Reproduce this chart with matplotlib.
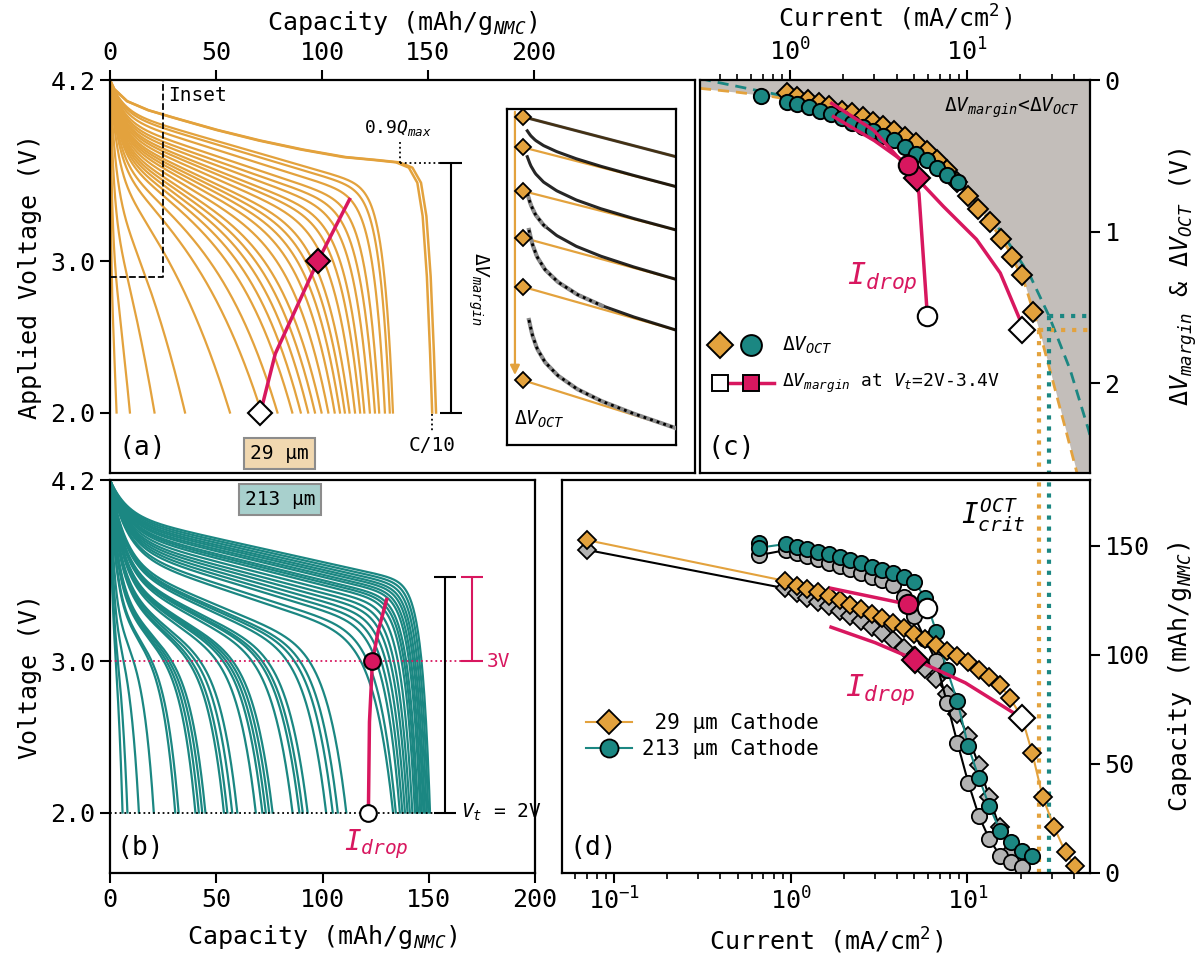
import numpy as np
import matplotlib
matplotlib.use('Agg')
import matplotlib.pyplot as plt

# colours
ORANGE = '#E3A23D'
TEAL = '#1B8782'
PINK = '#D8175F'
GREY = '#B3B3B3'
SHADE = '#C3BEBA'

plt.rcParams['font.family'] = ['DejaVu Sans Mono']
plt.rcParams['mathtext.fontset'] = 'custom'
plt.rcParams['mathtext.rm'] = 'DejaVu Sans Mono'
plt.rcParams['mathtext.it'] = 'DejaVu Sans Mono:italic'
plt.rcParams['mathtext.bf'] = 'DejaVu Sans Mono:bold'

# ---------------- data ----------------
# (a) 29 um discharge curves: end capacity at 2 V (mAh/g)
qend_29 = [3.1, 9.4, 21, 35.4, 56.6, 71.5, 79, 86, 90, 93.5, 96.7, 99.8, 103, 106,
           108.5, 110.8, 113, 115.6, 118, 120, 122.6, 125, 127, 129.7, 132, 133.5]
# shape parameters vs end capacity (start / end plateau voltage, knee sharpness)
tab29_q = [3, 10, 21, 35, 57, 72, 86, 100, 113, 125, 133.5]
tab29_v0 = [3.0, 3.15, 3.3, 3.45, 3.6, 3.66, 3.72, 3.78, 3.84, 3.91, 4.0]
tab29_v1 = [2.2, 2.3, 2.35, 2.4, 2.5, 2.6, 2.75, 2.9, 3.1, 3.3, 3.46]
tab29_p = [1.5, 1.8, 2.2, 2.6, 3, 3.5, 4.5, 6, 10, 18, 30]
tab29_tau = [0.4, 1, 1.8, 2.8, 3.5, 4, 4.5, 5, 5.5, 6, 6]
# C/10 curve
c10_q = [0, 2, 8, 18, 30, 50, 70, 90, 110, 125, 135, 141, 145, 147.5, 149.5, 151, 152]
c10_v = [4.2, 4.14, 4.06, 4.0, 3.95, 3.87, 3.80, 3.74, 3.69, 3.67, 3.655, 3.62, 3.52, 3.3, 2.9, 2.4, 2.0]
idrop29_q = [71, 78, 98, 113]
idrop29_v = [2.0, 2.39, 3.0, 3.41]

# (b) 213 um discharge curves
qend_213 = [5.9, 8.2, 13.6, 20.6, 30.7, 32.3, 40.2, 41.8, 43.4, 44.9, 53.6, 55.2, 57.5, 59.9,
            68.6, 71.7, 73.3, 74.9, 76.5, 85.9, 89.1, 90.7, 93, 101.7, 104.8, 107.2, 111.2,
            133.2, 134.5, 136.4, 137.6, 138.8, 140, 141.1, 142.3, 143.5, 144.3, 145, 146,
            146.7, 147.5, 148.2, 149, 149.8, 150.6]
tab213_q = [5.5, 13, 20, 31, 43, 56, 73, 90, 106, 133, 141, 150.6]
tab213_v0 = [3.25, 3.3, 3.35, 3.4, 3.45, 3.5, 3.55, 3.6, 3.65, 3.72, 3.82, 3.97]
tab213_v1 = [2.7, 2.7, 2.75, 2.8, 2.8, 2.85, 2.9, 2.95, 3.0, 3.1, 3.3, 3.5]
tab213_p = [3, 4, 5, 6, 7, 8, 9, 10, 12, 15, 25, 40]
tab213_tau = [1, 1.5, 2, 3, 4, 5, 6, 6.5, 7, 8, 8, 8]
idrop213_q = [121.6, 122.1, 123.5, 126.2, 130.2]
idrop213_v = [2.0, 2.6, 3.0, 3.2, 3.41]

# (c) voltage margins vs current
c29_i = [0.958, 1.09, 1.27, 1.45, 1.67, 1.96, 2.25, 2.57, 2.93, 3.37, 3.87, 4.47, 5.15, 5.92,
         6.74, 7.67, 8.74, 10.1, 11.6, 13.5, 15.6, 17.9, 20.5, 23.5]
c29_v = [0.088, 0.114, 0.132, 0.154, 0.171, 0.202, 0.219, 0.246, 0.274, 0.303, 0.336, 0.373,
         0.417, 0.471, 0.526, 0.592, 0.669, 0.763, 0.851, 0.939, 1.048, 1.169, 1.285, 1.531]
c213_i = [0.686, 0.958, 1.10, 1.28, 1.48, 1.70, 1.96, 2.25, 2.57, 2.93, 3.37, 3.87, 4.47,
          5.15, 5.92, 6.74, 7.74, 8.93]
c213_v = [0.103, 0.143, 0.160, 0.180, 0.204, 0.226, 0.252, 0.281, 0.307, 0.336, 0.368, 0.395,
          0.439, 0.489, 0.526, 0.581, 0.629, 0.669]
fit29_i = [0.31, 0.5, 0.8, 1.2, 2, 3, 5, 8, 12, 17, 21, 25.5, 30, 36, 42, 49.5]
fit29_v = [0.055, 0.08, 0.11, 0.145, 0.2, 0.27, 0.4, 0.6, 0.85, 1.11, 1.33, 1.645, 1.95, 2.3, 2.6, 2.95]
fit213_i = [0.31, 0.37, 0.88, 2, 4, 8, 15.4, 22.7, 29, 38.2, 48.4, 50]
fit213_v = [-0.01, 0.01, 0.10, 0.22, 0.38, 0.62, 0.99, 1.29, 1.553, 1.908, 2.30, 2.36]
marg29_i = [1.72, 2.96, 5.2, 7.35, 11.3, 15.4, 19.9, 20.4]
marg29_v = [0.154, 0.33, 0.647, 0.833, 1.05, 1.272, 1.58, 1.645]
marg213_i = [1.76, 3.0, 4.66, 5.15, 5.35, 5.97]
marg213_v = [0.241, 0.40, 0.559, 0.66, 0.75, 1.557]
icrit = [25.5, 29.0]
vcrit = [1.645, 1.553]

# (d) capacity vs current
d29_i = [0.07, 0.926, 1.08, 1.24, 1.43, 1.64, 1.89, 2.17, 2.50, 2.88, 3.29, 3.80, 4.37, 5.01,
         5.77, 6.65, 7.66, 8.77, 10.1, 11.6, 13.3, 15.2, 17.5, 20.4, 23.3, 26.7, 31.0, 35.9, 40.7]
d29_q = [152.5, 133.8, 131.5, 130.0, 128.9, 126.9, 125.1, 122.8, 120.9, 118.7, 117.0, 114.5,
         112.2, 109.6, 107.3, 104.6, 101.8, 99.2, 96.5, 93.1, 89.8, 86.3, 80.0, 70.9, 54.8,
         34.6, 20.9, 9.4, 3.3]
g29_i = [0.07, 0.926, 1.08, 1.24, 1.43, 1.64, 1.89, 2.17, 2.50, 2.88, 3.29, 3.80, 4.37, 5.01,
         5.77, 6.65, 7.66, 8.77, 10.1, 11.6, 13.3, 15.2, 17.5, 20.1]
g29_q = [148, 130.4, 128.2, 125.9, 124.3, 122.1, 119.8, 117.5, 115.2, 112.9, 109.9, 106.5,
         103.0, 99.2, 93.4, 88.9, 82.2, 72.9, 62.7, 49.3, 34.6, 20.9, 9.4, 4.1]
d213_i = [0.665, 0.665, 0.937, 1.08, 1.24, 1.43, 1.64, 1.89, 2.17, 2.50, 2.88, 3.29, 3.80,
          4.37, 5.01, 5.77, 6.65, 7.66, 8.77, 10.1, 11.6, 13.3, 15.3, 17.6, 20.3, 23.3]
d213_q = [151, 149, 150.7, 149.5, 148.4, 147.2, 146.1, 144.6, 143.4, 141.9, 140.3, 138.8,
          137.3, 135.8, 133.5, 125.9, 110.6, 93.1, 78.7, 58.1, 43.7, 30.7, 19.3, 14.0, 10.2, 7.9]
g213_i = [0.665, 0.937, 1.08, 1.24, 1.43, 1.64, 1.89, 2.17, 2.50, 2.88, 3.29, 3.80, 4.37,
          5.01, 5.77, 6.65, 7.66, 8.77, 10.1, 11.6, 13.3, 15.3, 17.6, 20.3]
g213_q = [145.6, 147.9, 146.4, 145.2, 143.7, 142.1, 140.6, 139.1, 137.3, 135.8, 134.2, 132.0,
          126.6, 117.5, 107.0, 97.0, 77.9, 59.7, 41.4, 26.2, 15.5, 7.9, 4.9, 2.6]
drop213_i = [1.69, 4.59, 5.9]
drop213_q = [130.4, 123.1, 121.6]
drop29_i = [1.69, 3.0, 5.06, 9.73, 20.4]
drop29_q = [112.6, 105.5, 97.7, 87.1, 70.9]

# inset (schematic, axes fraction units)
ins_diam_y = [0.977, 0.886, 0.756, 0.617, 0.471, 0.193]
ins_end_y = [0.858, 0.769, 0.640, 0.493, 0.342, 0.050]
ins_start_y = [0.977, 0.935, 0.858, 0.749, 0.640, 0.372]
relax_dx = [0, 0.02, 0.05, 0.1, 0.18, 0.3, 0.45, 0.65, 0.91]
relax_frac = [1, 0.78, 0.58, 0.40, 0.25, 0.13, 0.06, 0.02, 0]


def discharge(qend, tq, tv0, tv1, tp, ttau):
    v0 = np.interp(qend, tq, tv0)
    v1 = np.interp(qend, tq, tv1)
    p = np.interp(qend, tq, tp)
    tau = np.interp(qend, tq, ttau)
    q = np.linspace(0, qend, 400)
    u = q / qend
    a = v0 - (v0 - v1) * u + (4.2 - v0) * np.exp(-q / tau)
    return q, a - (a[-1] - 2.0) * u ** p


def style(ax):
    for s in ax.spines.values():
        s.set_linewidth(1.6)
    ax.tick_params(which='major', direction='out', length=7, width=1.5, labelsize=18)
    ax.tick_params(which='minor', direction='out', length=4, width=1.2)


W, H = 1202, 964


def box(l, t, r, b):
    return [l / W, 1 - b / H, (r - l) / W, (b - t) / H]


fig = plt.figure(figsize=(12.02, 9.64), dpi=100)
ax_a = fig.add_axes(box(110, 80, 695, 473))
ax_c = fig.add_axes(box(700, 80, 1090, 473))
ax_b = fig.add_axes(box(110, 480, 535, 873))
ax_d = fig.add_axes(box(562, 480, 1090, 873))
ax_in = fig.add_axes(box(507, 109, 676, 445))

cap_label = r'Capacity (mAh/g$_{NMC}$)'
cur_label = r'Current (mA/cm$^2$)'

# ---------------- (a) ----------------
for qe in qend_29:
    q, v = discharge(qe, tab29_q, tab29_v0, tab29_v1, tab29_p, tab29_tau)
    ax_a.plot(q, v, color=ORANGE, lw=1.6)
ax_a.plot(c10_q, c10_v, color=ORANGE, lw=1.8)
ax_a.plot(np.array(c10_q) * 1.012, c10_v, color=ORANGE, lw=1.8)
ax_a.plot(idrop29_q, idrop29_v, color=PINK, lw=2.5)
ax_a.plot(idrop29_q[0], idrop29_v[0], 'D', mfc='white', mec='k', mew=1.5, ms=12)
ax_a.plot(idrop29_q[2], idrop29_v[2], 'D', mfc=PINK, mec='k', mew=1.5, ms=12)
ax_a.plot([0, 25, 25], [2.895, 2.895, 4.2], 'k--', lw=1.3)
ax_a.text(27.5, 4.1, 'Inset', fontsize=14, ha='left', va='center')
ax_a.plot([137, 137], [3.65, 3.80], 'k:', lw=1.3)
ax_a.plot([137, 161], [3.65, 3.65], 'k:', lw=1.3)
ax_a.text(136, 3.88, r'0.9$Q_{max}$', fontsize=13, ha='center', va='center')
ax_a.errorbar([161], [2.825], yerr=[0.825], color='k', capsize=8, capthick=1.5, lw=1.5)
ax_a.text(168, 2.82, r'$\Delta V_{margin}$', fontsize=14, rotation=270, ha='left', va='center')
ax_a.plot([152, 152], [1.99, 1.88], 'k:', lw=1.3)
ax_a.text(152, 1.78, 'C/10', fontsize=14, ha='center', va='center')
ax_a.text(80, 1.73, '29 µm', fontsize=14, ha='center', va='center',
          bbox=dict(boxstyle='square,pad=0.3', fc='#F1D8B0', ec='#8C8C8C', lw=1.5))
ax_a.text(0.015, 0.03, '(a)', transform=ax_a.transAxes, fontsize=19, ha='left', va='bottom')
ax_a.set_xlim(0, 276)
ax_a.set_ylim(1.6, 4.2)
ax_a.xaxis.tick_top()
ax_a.xaxis.set_label_position('top')
ax_a.set_xticks([0, 50, 100, 150, 200])
ax_a.set_yticks([2.0, 3.0, 4.2])
ax_a.set_yticklabels(['2.0', '3.0', '4.2'])
ax_a.set_xlabel(cap_label, fontsize=18, labelpad=8)
ax_a.set_ylabel('Applied Voltage (V)', fontsize=18, labelpad=6)
style(ax_a)

# ---------------- inset ----------------
x_dense = np.linspace(0, 0.91, 120)
prof = np.interp(x_dense, relax_dx, relax_frac)
for k in range(6):
    yd, ye = ins_diam_y[k], ins_end_y[k]
    ax_in.plot([0.093, 1.0], [yd, ye], color=ORANGE, lw=1.6, zorder=2)
    if k == 0:
        ax_in.plot([0.093, 1.0], [yd, ye], color='k', lw=2.2, alpha=0.7, zorder=3)
        continue
    x0 = 0.12 if k < 4 else 0.13
    xs = x0 + x_dense * (1.0 - x0) / 0.91
    line = yd + (ye - yd) * (xs - 0.093) / 0.907
    y0 = ins_start_y[k] - (yd + (ye - yd) * (x0 - 0.093) / 0.907)
    curve = line + y0 * prof
    if k < 5:
        ax_in.plot(xs, curve, color='k', lw=2.2, alpha=0.85, zorder=3)
    if k >= 3:
        n = {3: 15, 4: 60, 5: 120}[k]
        ax_in.plot(xs[:n], curve[:n], color='#8a8a8a', lw=3, zorder=3)
        ax_in.plot(xs[:n], curve[:n], color='k', lw=2, ls=(0, (1, 1.5)), zorder=4)
ax_in.plot([0.093] * 6, ins_diam_y, 'D', mfc=ORANGE, mec='k', mew=1.3, ms=8, zorder=5)
ax_in.annotate('', xy=(0.047, 0.2), xytext=(0.047, 1.0),
               arrowprops=dict(arrowstyle='-|>', color=ORANGE, lw=1.6, mutation_scale=14))
ax_in.text(0.04, 0.075, r'$\Delta V_{OCT}$', fontsize=14, ha='left', va='center')
ax_in.set_xlim(0, 1)
ax_in.set_ylim(0, 1)
ax_in.set_xticks([])
ax_in.set_yticks([])
for s in ax_in.spines.values():
    s.set_linewidth(1.6)

# ---------------- (b) ----------------
for qe in qend_213:
    q, v = discharge(qe, tab213_q, tab213_v0, tab213_v1, tab213_p, tab213_tau)
    ax_b.plot(q, v, color=TEAL, lw=1.6)
ax_b.plot([0, 152], [2.0, 2.0], 'k:', lw=1.3)
ax_b.plot([0, 170.4], [3.0, 3.0], ':', color=PINK, lw=1.3)
ax_b.plot(idrop213_q, idrop213_v, color=PINK, lw=2.5)
ax_b.plot(idrop213_q[0], idrop213_v[0], 'o', mfc='white', mec='k', mew=1.5, ms=12)
ax_b.plot(idrop213_q[2], idrop213_v[2], 'o', mfc=PINK, mec='k', mew=1.5, ms=12)
ax_b.errorbar([157.5], [2.78], yerr=[0.78], color='k', capsize=8, capthick=1.5, lw=1.5)
ax_b.errorbar([170.4], [3.28], yerr=[0.28], color=PINK, capsize=8, capthick=1.5, lw=1.5)
ax_b.text(177.5, 3.0, '3V', color=PINK, fontsize=14, ha='left', va='center')
ax_b.text(165, 2.0, r'$V_t$ = 2V', fontsize=14, ha='left', va='center')
ax_b.text(125.5, 1.79, r'$I_{drop}$', color=PINK, fontsize=20, ha='center', va='center')
ax_b.text(80, 4.07, '213 µm', fontsize=14, ha='center', va='center',
          bbox=dict(boxstyle='square,pad=0.3', fc='#A8D0CD', ec='#8C8C8C', lw=1.5))
ax_b.text(0.015, 0.03, '(b)', transform=ax_b.transAxes, fontsize=19, ha='left', va='bottom')
ax_b.set_xlim(0, 200)
ax_b.set_ylim(1.6, 4.2)
ax_b.set_xticks([0, 50, 100, 150, 200])
ax_b.set_yticks([2.0, 3.0, 4.2])
ax_b.set_yticklabels(['2.0', '3.0', '4.2'])
ax_b.set_xlabel(cap_label, fontsize=18, labelpad=8)
ax_b.set_ylabel('Voltage (V)', fontsize=18, labelpad=6)
style(ax_b)

# ---------------- (c) ----------------
ax_c.fill_between(fit29_i, 0, fit29_v, color=SHADE, lw=0, zorder=0)
ax_c.plot(fit29_i, fit29_v, '--', color=ORANGE, lw=2, dashes=(4, 2.5), zorder=1)
ax_c.plot(fit213_i, fit213_v, '--', color=TEAL, lw=2, dashes=(4, 2.5), zorder=1)
for ic, vc, col in zip(icrit, vcrit, [ORANGE, TEAL]):
    ax_c.plot([ic, ic], [vc, 2.7], ':', color=col, lw=3, zorder=1)
    ax_c.plot([ic, 60], [vc, vc], ':', color=col, lw=3, zorder=1)
ax_c.plot(c29_i, c29_v, 'D', mfc=ORANGE, mec='k', mew=1.4, ms=10, ls='none', zorder=3)
ax_c.plot(c213_i, c213_v, 'o', mfc=TEAL, mec='k', mew=1.4, ms=11, ls='none', zorder=3)
ax_c.plot(marg29_i, marg29_v, color=PINK, lw=2.5, zorder=4)
ax_c.plot(marg213_i, marg213_v, color=PINK, lw=2.5, zorder=4)
ax_c.plot(marg29_i[-1], marg29_v[-1], 'D', mfc='white', mec='k', mew=1.5, ms=13, zorder=5)
ax_c.plot(marg29_i[2], marg29_v[2], 'D', mfc=PINK, mec='k', mew=1.5, ms=13, zorder=5)
ax_c.plot(marg213_i[-1], marg213_v[-1], 'o', mfc='white', mec='k', mew=1.5, ms=14, zorder=5)
ax_c.plot(marg213_i[2], marg213_v[2], 'o', mfc=PINK, mec='k', mew=1.5, ms=14, zorder=5)
ax_c.text(3.31, 1.30, r'$I_{drop}$', color=PINK, fontsize=22, ha='center', va='center')
ax_c.text(0.975, 0.93, r'$\Delta V_{margin}$<$\Delta V_{OCT}$', transform=ax_c.transAxes,
          fontsize=14, ha='right', va='center')
# legend drawn by hand
tr = ax_c.transAxes
ax_c.plot([0.051], [0.326], 'D', transform=tr, mfc=ORANGE, mec='k', mew=1.4, ms=13, zorder=6)
ax_c.plot([0.131], [0.326], 'o', transform=tr, mfc=TEAL, mec='k', mew=1.4, ms=15, zorder=6)
ax_c.text(0.21, 0.326, r'$\Delta V_{OCT}$', transform=tr, fontsize=14, ha='left', va='center')
ax_c.plot([0.051, 0.19], [0.229, 0.229], transform=tr, color=PINK, lw=2.5, zorder=6)
ax_c.plot([0.051], [0.229], 's', transform=tr, mfc='white', mec='k', mew=1.4, ms=12, zorder=7)
ax_c.plot([0.131], [0.229], 's', transform=tr, mfc=PINK, mec='k', mew=1.4, ms=12, zorder=7)
ax_c.text(0.21, 0.229, r'$\Delta V_{margin}$ at $V_t$=2V-3.4V', transform=tr, fontsize=13,
          ha='left', va='center')
ax_c.text(0.02, 0.03, '(c)', transform=tr, fontsize=19, ha='left', va='bottom')
ax_c.set_xscale('log')
ax_c.set_xlim(0.31, 49.5)
ax_c.set_ylim(2.59, 0)
ax_c.xaxis.tick_top()
ax_c.xaxis.set_label_position('top')
ax_c.yaxis.tick_right()
ax_c.yaxis.set_label_position('right')
ax_c.set_yticks([0, 1, 2])
ax_c.set_xlabel(cur_label, fontsize=18, labelpad=8)
ax_c.set_ylabel(r'$\Delta V_{margin}$ & $\Delta V_{OCT}$ (V)', fontsize=18, labelpad=34)
style(ax_c)

# ---------------- (d) ----------------
for ic, col in zip(icrit, [ORANGE, TEAL]):
    ax_d.plot([ic, ic], [0, 180], ':', color=col, lw=3, zorder=1)
ax_d.plot(g29_i, g29_q, color='k', lw=1.5, marker='D', mfc=GREY, mec='k', mew=1.3, ms=9.5, zorder=2)
ax_d.plot(g213_i, g213_q, color='k', lw=1.5, marker='o', mfc=GREY, mec='k', mew=1.3, ms=11, zorder=2)
ax_d.plot(d213_i, d213_q, color=TEAL, lw=1.5, marker='o', mfc=TEAL, mec='k', mew=1.3, ms=11, zorder=3)
ax_d.plot(d29_i, d29_q, color=ORANGE, lw=1.5, marker='D', mfc=ORANGE, mec='k', mew=1.3, ms=9.5, zorder=3)
ax_d.plot(drop213_i, drop213_q, color=PINK, lw=2.5, zorder=4)
ax_d.plot(drop29_i, drop29_q, color=PINK, lw=2.5, zorder=4)
ax_d.plot(drop213_i[1], drop213_q[1], 'o', mfc=PINK, mec='k', mew=1.5, ms=14, zorder=5)
ax_d.plot(drop213_i[2], drop213_q[2], 'o', mfc='white', mec='k', mew=1.5, ms=14, zorder=5)
ax_d.plot(drop29_i[2], drop29_q[2], 'D', mfc=PINK, mec='k', mew=1.5, ms=13, zorder=5)
ax_d.plot(drop29_i[-1], drop29_q[-1], 'D', mfc='white', mec='k', mew=1.5, ms=13, zorder=5)
ax_d.text(3.21, 84, r'$I_{drop}$', color=PINK, fontsize=22, ha='center', va='center')
ax_d.text(21.2, 164, r'$I_{crit}^{OCT}$', fontsize=20, ha='right', va='center')
ax_d.plot([], [], color=ORANGE, lw=1.5, marker='D', mfc=ORANGE, mec='k', mew=1.3, ms=12,
          label=' 29 µm Cathode')
ax_d.plot([], [], color=TEAL, lw=1.5, marker='o', mfc=TEAL, mec='k', mew=1.3, ms=13,
          label='213 µm Cathode')
ax_d.legend(loc='upper left', bbox_to_anchor=(0.01, 0.455), frameon=False, fontsize=15,
            handlelength=2.2, handletextpad=0.5, labelspacing=0.3)
ax_d.text(0.015, 0.03, '(d)', transform=ax_d.transAxes, fontsize=19, ha='left', va='bottom')
ax_d.set_xscale('log')
ax_d.set_xlim(0.0507, 49.4)
ax_d.set_ylim(0, 180)
ax_d.yaxis.tick_right()
ax_d.yaxis.set_label_position('right')
ax_d.set_yticks([0, 50, 100, 150])
ax_d.set_xlabel(cur_label, fontsize=18, labelpad=8)
ax_d.set_ylabel(cap_label, fontsize=18, labelpad=12)
style(ax_d)

fig.savefig('out.png', dpi=100)
